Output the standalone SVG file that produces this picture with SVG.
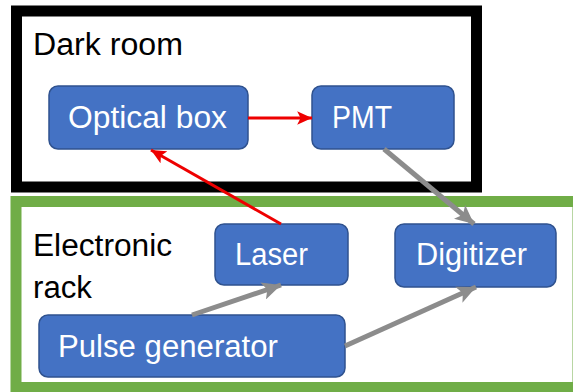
<svg xmlns="http://www.w3.org/2000/svg" width="573" height="392" viewBox="0 0 573 392">
<style>
.node rect{fill:#4472c4;stroke:#2f528f;stroke-width:1.5}
.node text{fill:#ffffff;font-family:"Liberation Sans",Arial,sans-serif;font-size:31px}
.lbl{fill:#000000;font-family:"Liberation Sans",Arial,sans-serif;font-size:31px}
.red{stroke:#ee0000;stroke-width:3;fill:none}
.grey{stroke:#8c8c8c;stroke-width:5;fill:none}
</style>
<defs>
<marker id="ar" markerUnits="userSpaceOnUse" markerWidth="16" markerHeight="14" refX="13" refY="6" orient="auto" viewBox="0 0 14 12">
<path d="M0,0 L13,6 L0,12 L3,6 Z" fill="#ee0000"/>
</marker>
<marker id="ag" markerUnits="userSpaceOnUse" markerWidth="20" markerHeight="18" refX="17" refY="8" orient="auto" viewBox="0 0 18 16">
<path d="M0,0 L17,8 L0,16 L4,8 Z" fill="#8c8c8c"/>
</marker>
</defs>
<rect width="573" height="392" fill="#ffffff"/>
<g id="dark-room">
<rect x="16.5" y="11" width="460" height="176" fill="#ffffff" stroke="#000000" stroke-width="11"/>
<text class="lbl" x="33" y="55" textLength="150" lengthAdjust="spacingAndGlyphs">Dark room</text>
</g>
<g id="electronic-rack">
<rect x="16" y="201.5" width="562" height="186" fill="#ffffff" stroke="#70ad47" stroke-width="11"/>
<text class="lbl" x="33" y="256" textLength="139" lengthAdjust="spacingAndGlyphs">Electronic</text>
<text class="lbl" x="33" y="298" textLength="59" lengthAdjust="spacingAndGlyphs">rack</text>
</g>
<g id="optical-box" class="node">
<rect x="49" y="86" width="199" height="63" rx="9"/>
<text x="68" y="128" textLength="159" lengthAdjust="spacingAndGlyphs">Optical box</text>
</g>
<g id="pmt" class="node">
<rect x="312" y="86" width="142" height="63" rx="9"/>
<text x="332" y="128" textLength="60" lengthAdjust="spacingAndGlyphs">PMT</text>
</g>
<g id="laser" class="node">
<rect x="215" y="224" width="133" height="61" rx="9"/>
<text x="235" y="265" textLength="73" lengthAdjust="spacingAndGlyphs">Laser</text>
</g>
<g id="digitizer" class="node">
<rect x="395" y="224" width="161" height="63" rx="9"/>
<text x="416" y="265" textLength="111" lengthAdjust="spacingAndGlyphs">Digitizer</text>
</g>
<g id="pulse-generator" class="node">
<rect x="39" y="315" width="306" height="62" rx="9"/>
<text x="58" y="357" textLength="220" lengthAdjust="spacingAndGlyphs">Pulse generator</text>
</g>
<g id="connectors">
<line class="red" x1="248" y1="118" x2="312" y2="118" marker-end="url(#ar)"/>
<line class="red" x1="281" y1="224" x2="151" y2="150" marker-end="url(#ar)"/>
<line class="grey" x1="384" y1="149" x2="474" y2="224" marker-end="url(#ag)"/>
<line class="grey" x1="192" y1="315" x2="281" y2="285" marker-end="url(#ag)"/>
<line class="grey" x1="345" y1="346" x2="476" y2="287" marker-end="url(#ag)"/>
</g>
</svg>
